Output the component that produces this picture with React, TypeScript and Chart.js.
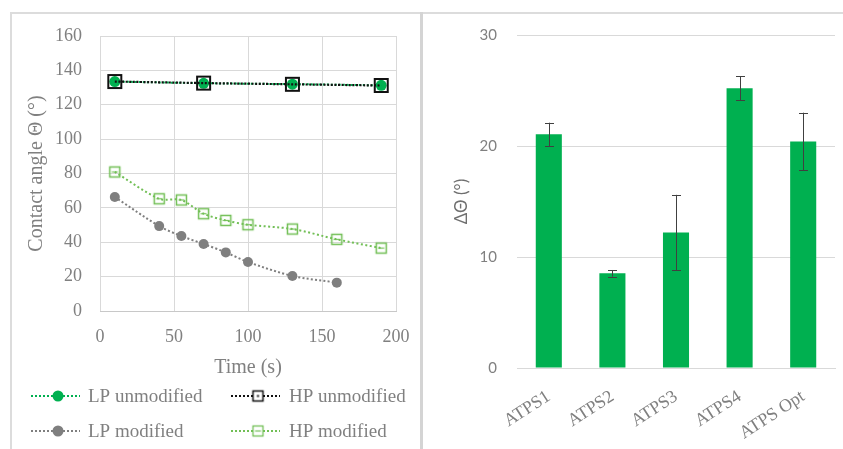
import React, { useEffect, useRef } from "react";
import { Chart, registerables } from "chart.js";
Chart.register(...registerables);

// ---- Left chart data ----
const timeLPunmod = [10, 70, 130, 190];
const lpUnmod = [133.5, 132.5, 132.0, 131.3];
const timeHPunmod = [10, 70, 130, 190];
const hpUnmod = [133.5, 132.6, 131.9, 131.2];
const timeLPmod = [10, 40, 55, 70, 85, 100, 130, 160];
const lpMod = [66.3, 49.4, 43.6, 39.0, 34.1, 28.5, 20.4, 16.5];
const timeHPmod = [10, 40, 55, 70, 85, 100, 130, 160, 190];
const hpMod = [80.9, 65.3, 64.6, 56.6, 52.7, 50.2, 47.7, 41.7, 36.6];
const seriesLabels = ["LP unmodified", "HP unmodified", "LP modified", "HP modified"];

// ---- Right chart data ----
const atpsLabels = ["ATPS1", "ATPS2", "ATPS3", "ATPS4", "ATPS Opt"];
const deltaTheta = [21.05, 8.53, 12.2, 25.2, 20.4];
const deltaErr = [1.05, 0.3, 3.4, 1.1, 2.6];

const GREEN = "#00B050";
const LIGHT_GREEN = "#72BF56";
const GRAY = "#7F7F7F";
const BLACK = "#111111";
const TEXT = "#808080";
const GRID = "#d9d9d9";
const CLEAR = "rgba(0,0,0,0)";
const SERIF = '"Liberation Serif", "Times New Roman", serif';
const SANS = 'Lato, "Noto Sans", sans-serif';

function squareImg(side: number, color: string, lw: number, inner: "dash" | "dot" | "none") {
  const c = document.createElement("canvas");
  const s = Math.ceil(side + lw * 2 + 2);
  c.width = s;
  c.height = s;
  const ctx = c.getContext("2d")!;
  const o = (s - side) / 2;
  ctx.strokeStyle = color;
  ctx.lineWidth = lw;
  ctx.strokeRect(o, o, side, side);
  if (inner === "dash") {
    ctx.lineWidth = 1.2;
    ctx.beginPath();
    ctx.moveTo(o + 2, s / 2);
    ctx.lineTo(o + side - 2, s / 2);
    ctx.stroke();
  } else if (inner === "dot") {
    ctx.fillStyle = color;
    ctx.fillRect(s / 2 - 1, s / 2 - 1, 2, 2);
  }
  return c;
}

export default function App() {
  const leftRef = useRef<HTMLCanvasElement>(null);
  const rightRef = useRef<HTMLCanvasElement>(null);

  useEffect(() => {
    const hpUnmodPt = squareImg(13, BLACK, 2, "none");
    const hpModPt = squareImg(10, LIGHT_GREEN, 1.5, "dash");
    const hpUnmodLeg = squareImg(10, BLACK, 1.5, "dot");
    const hpModLeg = squareImg(10, LIGHT_GREEN, 1.3, "dash");

    const legendItems = [
      { color: GREEN, kind: "circle", r: 5.5 },
      { color: BLACK, kind: "img", img: hpUnmodLeg },
      { color: GRAY, kind: "circle", r: 5.5 },
      { color: LIGHT_GREEN, kind: "img", img: hpModLeg },
    ];

    const legendPlugin = {
      id: "gridLegend",
      afterDraw(chart: any) {
        const ctx = chart.ctx;
        const colX = [46, 246];
        const textX = [76, 277];
        const rowY = [382, 417];
        chart.data.datasets.forEach((ds: any, i: number) => {
          const it = legendItems[i];
          const col = i % 2;
          const row = Math.floor(i / 2);
          const mx = colX[col];
          const my = rowY[row];
          ctx.save();
          ctx.strokeStyle = it.color;
          ctx.lineWidth = 2;
          ctx.setLineDash([2, 2]);
          ctx.beginPath();
          ctx.moveTo(mx - 27, my);
          ctx.lineTo(mx + 22, my);
          ctx.stroke();
          ctx.setLineDash([]);
          if (it.kind === "circle") {
            ctx.fillStyle = it.color;
            ctx.beginPath();
            ctx.arc(mx, my, it.r!, 0, Math.PI * 2);
            ctx.fill();
          } else {
            const img = it.img!;
            ctx.fillStyle = "#fff";
            ctx.fillRect(mx - 5, my - 5, 10, 10);
            ctx.drawImage(img, mx - img.width / 2, my - img.height / 2);
          }
          ctx.fillStyle = TEXT;
          ctx.font = `19px ${SERIF}`;
          ctx.textBaseline = "middle";
          ctx.textAlign = "left";
          ctx.fillText(ds.label, textX[col], my + 1);
          ctx.restore();
        });
      },
    };

    const toXY = (xs: number[], ys: number[]) => xs.map((x, i) => ({ x, y: ys[i] }));

    const left = new Chart(leftRef.current!, {
      type: "line",
      data: {
        datasets: [
          {
            label: seriesLabels[0],
            data: toXY(timeLPunmod, lpUnmod),
            borderColor: GREEN,
            backgroundColor: GREEN,
            borderWidth: 2,
            borderDash: [2, 2],
            pointStyle: "circle",
            pointRadius: 5.5,
            pointBorderWidth: 0,
            order: 2,
          },
          {
            label: seriesLabels[1],
            data: toXY(timeHPunmod, hpUnmod),
            borderColor: BLACK,
            backgroundColor: BLACK,
            borderWidth: 2.2,
            borderDash: [2, 1.6],
            pointStyle: hpUnmodPt as any,
            order: 1,
          },
          {
            label: seriesLabels[2],
            data: toXY(timeLPmod, lpMod),
            borderColor: GRAY,
            backgroundColor: GRAY,
            borderWidth: 2,
            borderDash: [2, 2.2],
            pointStyle: "circle",
            pointRadius: 5,
            pointBorderWidth: 0,
            tension: 0.3,
            order: 4,
          },
          {
            label: seriesLabels[3],
            data: toXY(timeHPmod, hpMod),
            borderColor: LIGHT_GREEN,
            backgroundColor: LIGHT_GREEN,
            borderWidth: 2,
            borderDash: [2, 2.5],
            pointStyle: hpModPt as any,
            tension: 0.3,
            order: 3,
          },
        ],
      },
      options: {
        animation: false,
        responsive: false,
        maintainAspectRatio: false,
        layout: { padding: { top: 22, right: 22, bottom: 69, left: 0 } },
        plugins: { legend: { display: false }, tooltip: { enabled: false } },
        scales: {
          x: {
            type: "linear",
            min: 0,
            max: 200,
            ticks: { stepSize: 50, padding: 0, color: TEXT, font: { family: SERIF, size: 18 } },
            grid: { color: GRID, drawTicks: true, tickLength: 15, tickColor: CLEAR },
            border: { display: true, color: "#c8c8c8" },
            title: {
              display: true,
              text: "Time (s)",
              color: TEXT,
              font: { family: SERIF, size: 20 },
              padding: { top: 0, bottom: 0 },
            },
            afterFit: (s: any) => {
              s.height = 69;
            },
          },
          y: {
            min: 0,
            max: 160,
            ticks: { stepSize: 20, padding: 0, color: TEXT, font: { family: SERIF, size: 18 } },
            grid: { color: GRID, drawTicks: true, tickLength: 18, tickColor: CLEAR },
            border: { display: false },
            title: {
              display: true,
              text: "Contact angle Θ (°)",
              color: TEXT,
              font: { family: SERIF, size: 20 },
              padding: { top: 13, bottom: 0 },
            },
            afterFit: (s: any) => {
              s.width = 88;
            },
          },
        },
      },
      plugins: [legendPlugin],
    } as any);

    const errPlugin = {
      id: "errBars",
      afterDatasetsDraw(chart: any) {
        const ctx = chart.ctx;
        const meta = chart.getDatasetMeta(0);
        const ys = chart.scales.y;
        ctx.save();
        ctx.strokeStyle = "#404040";
        ctx.lineWidth = 1;
        meta.data.forEach((bar: any, i: number) => {
          const v = deltaTheta[i];
          const e = deltaErr[i];
          const x = Math.round(bar.x) + 0.5;
          const yt = ys.getPixelForValue(v + e);
          const yb = ys.getPixelForValue(v - e);
          ctx.beginPath();
          ctx.moveTo(x, yt);
          ctx.lineTo(x, yb);
          ctx.moveTo(x - 4.5, Math.round(yt) + 0.5);
          ctx.lineTo(x + 4.5, Math.round(yt) + 0.5);
          ctx.moveTo(x - 4.5, Math.round(yb) + 0.5);
          ctx.lineTo(x + 4.5, Math.round(yb) + 0.5);
          ctx.stroke();
        });
        ctx.restore();
      },
    };

    const right = new Chart(rightRef.current!, {
      type: "bar",
      data: {
        labels: atpsLabels,
        datasets: [
          {
            label: "ΔΘ",
            data: deltaTheta,
            backgroundColor: GREEN,
            borderWidth: 0,
            categoryPercentage: 1,
            barPercentage: 0.41,
          },
        ],
      },
      options: {
        animation: false,
        responsive: false,
        maintainAspectRatio: false,
        layout: { padding: { top: 21, right: 8, bottom: 0, left: 0 } },
        plugins: { legend: { display: false }, tooltip: { enabled: false } },
        scales: {
          x: {
            ticks: {
              autoSkip: false,
              minRotation: 33,
              maxRotation: 33,
              padding: 18,
              color: TEXT,
              font: { family: SERIF, size: 18 },
            },
            grid: { display: false, drawTicks: false },
            border: { display: true, color: GRID },
            afterFit: (s: any) => {
              s.height = 81;
            },
          },
          y: {
            min: 0,
            max: 30,
            ticks: { stepSize: 10, padding: 0, color: TEXT, font: { family: SANS, size: 15 } },
            grid: { color: GRID, drawTicks: true, tickLength: 20, tickColor: CLEAR },
            border: { display: false },
            title: {
              display: true,
              text: "ΔΘ (°)",
              color: "#6f6f6f",
              font: { family: SANS, size: 17 },
              padding: { top: 27, bottom: 0 },
            },
            afterFit: (s: any) => {
              s.width = 93;
            },
          },
        },
      },
      plugins: [errPlugin],
    } as any);

    return () => {
      left.destroy();
      right.destroy();
    };
  }, []);

  return (
    <div style={{ position: "absolute", left: 0, top: 0, width: 843, height: 449, background: "#fff", overflow: "hidden" }}>
      <div style={{ position: "absolute", left: 10, top: 12, width: 833, height: 2, background: "#dcdcdc" }} />
      <div style={{ position: "absolute", left: 10, top: 12, width: 2, height: 437, background: "#dcdcdc" }} />
      <div style={{ position: "absolute", left: 420, top: 12, width: 3, height: 437, background: "#d4d4d4" }} />
      <canvas ref={leftRef} width={406} height={435} style={{ position: "absolute", left: 12, top: 14, width: 406, height: 435 }} />
      <canvas ref={rightRef} width={419} height={435} style={{ position: "absolute", left: 424, top: 14, width: 419, height: 435 }} />
    </div>
  );
}
